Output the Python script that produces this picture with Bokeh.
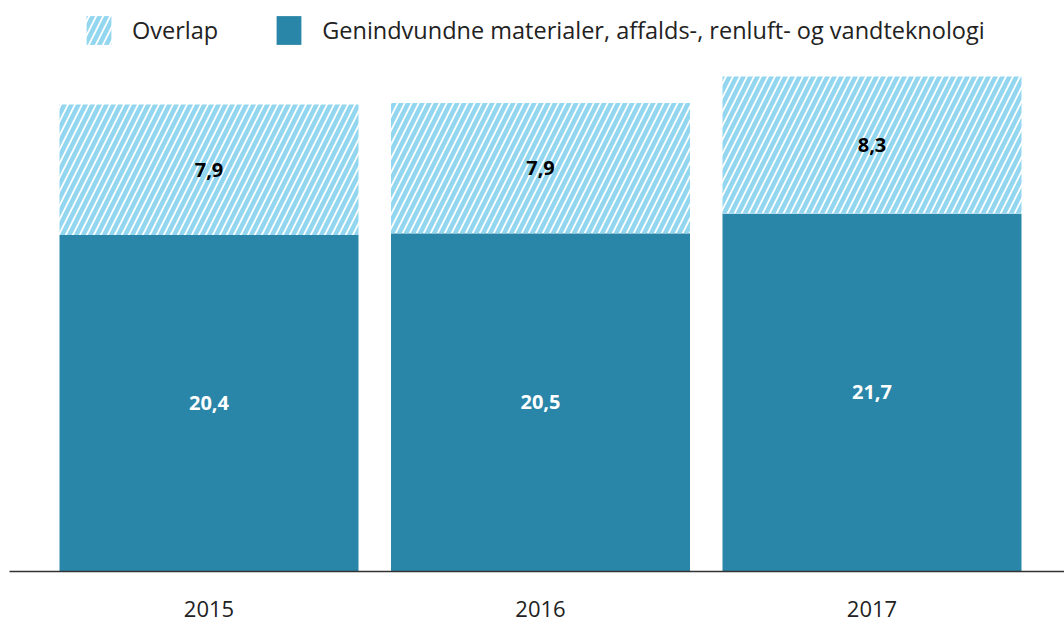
from bokeh.plotting import figure
from bokeh.models import ColumnDataSource, FixedTicker, Legend, LegendItem
from bokeh.core.properties import value
from bokeh.embed import file_html
from bokeh.resources import INLINE

years = ["2015", "2016", "2017"]
base_values = [20.4, 20.5, 21.7]
overlap_values = [7.9, 7.9, 8.3]
series_names = ["Overlap", "Genindvundne materialer, affalds-, renluft- og vandteknologi"]

DARK = "#2a86a8"
LIGHT = "#93d6f0"

xs = list(range(len(years)))
tops = [b + o for b, o in zip(base_values, overlap_values)]
src = ColumnDataSource(dict(
    x=xs,
    base=base_values,
    overlap=overlap_values,
    top=tops,
    zero=[0] * len(xs),
    base_mid=[b / 2 for b in base_values],
    over_mid=[b + o / 2 for b, o in zip(base_values, overlap_values)],
    base_lbl=[f"{v:.1f}".replace(".", ",") for v in base_values],
    over_lbl=[f"{v:.1f}".replace(".", ",") for v in overlap_values],
))

p = figure(frame_width=1055, frame_height=571, output_backend="svg", toolbar_location=None,
           x_range=(-0.6018, 2.5807), y_range=(0, 34.606),
           min_border_left=9, min_border_right=0, min_border_top=0, min_border_bottom=53)
p.outline_line_color = None
p.grid.visible = False
p.yaxis.visible = False

bw = 299 / 331.5
r_base = p.vbar(x="x", bottom="zero", top="base", width=bw, source=src,
                fill_color=DARK, line_color=None)
r_over = p.vbar(x="x", bottom="base", top="top", width=bw, source=src,
                fill_color="white", line_color=None,
                hatch_pattern="/", hatch_color=LIGHT, hatch_scale=14, hatch_weight=4.5)

p.text(x="x", y="base_mid", text="base_lbl", source=src, text_align="center",
       text_baseline="middle", text_color="white", text_font=value("Open Sans"),
       text_font_style="bold", text_font_size="20px")
p.text(x="x", y="over_mid", text="over_lbl", source=src, text_align="center",
       text_baseline="middle", text_color="black", text_font=value("Open Sans"),
       text_font_style="bold", text_font_size="20px")

ax = p.xaxis[0]
ax.ticker = FixedTicker(ticks=xs)
ax.major_label_overrides = {i: y for i, y in zip(xs, years)}
ax.major_tick_line_color = None
ax.minor_tick_line_color = None
ax.axis_line_color = "#333333"
ax.axis_line_width = 1.5
ax.major_label_text_font = "Open Sans"
ax.major_label_text_font_size = "22px"
ax.major_label_text_color = "#222222"
ax.major_label_standoff = 23

legend = Legend(items=[LegendItem(label=series_names[0], renderers=[r_over]),
                       LegendItem(label=series_names[1], renderers=[r_base])],
                orientation="horizontal", location=(74, 523),
                glyph_width=31, glyph_height=36, label_standoff=18, spacing=55,
                padding=0, margin=0, border_line_color=None, background_fill_alpha=0,
                label_text_font="Open Sans", label_text_font_size="23.5px",
                label_text_color="#222222")
p.add_layout(legend, "center")

open("out.html", "w").write(file_html(p, INLINE))
